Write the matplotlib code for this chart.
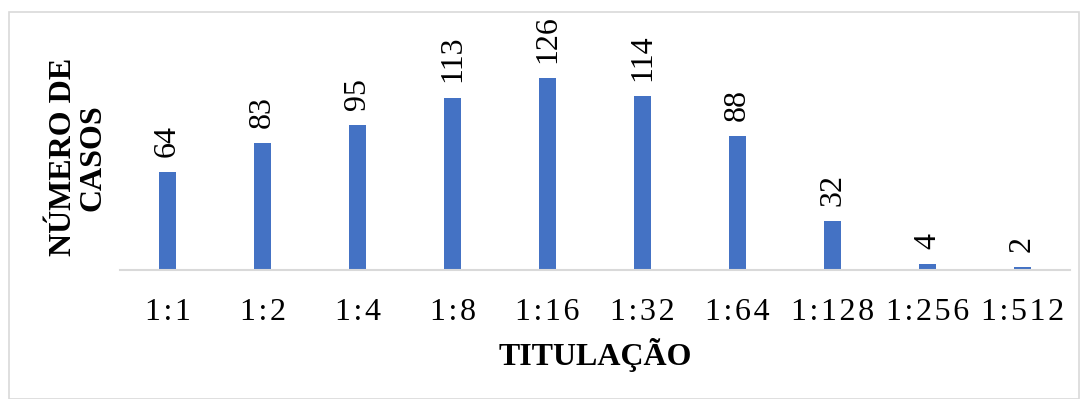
import matplotlib
matplotlib.use("Agg")
import matplotlib.pyplot as plt
from matplotlib.patches import Rectangle

plt.rcParams['font.family'] = ['Liberation Serif', 'DejaVu Serif']

titulos = ['1:1', '1:2', '1:4', '1:8', '1:16', '1:32', '1:64', '1:128', '1:256', '1:512']
casos = [64, 83, 95, 113, 126, 114, 88, 32, 4, 2]

def espacado(s):
    # a little tracking between characters
    return '\u200a'.join(s)

fig = plt.figure(figsize=(10.87, 3.99), dpi=100)
ax = fig.add_axes([0.1104, 0.3233, 0.874, 0.535])

x = range(len(titulos))
bars = ax.bar(x, casos, width=0.18, color='#4472C4')

for b, v in zip(bars, casos):
    ax.text(b.get_x() + b.get_width() / 2, v + 10, str(v), rotation=90,
            ha='center', va='bottom', fontsize=23, clip_on=False)

ax.set_xlim(-0.5, len(titulos) - 0.5)
ax.set_ylim(0, 140)
ax.set_xticks(list(x))
ax.set_xticklabels([espacado(t) for t in titulos], fontsize=23)
ax.tick_params(axis='x', length=0, pad=20)
ax.set_yticks([])
for s in ['top', 'right', 'left']:
    ax.spines[s].set_visible(False)
ax.spines['bottom'].set_color('#d9d9d9')
ax.spines['bottom'].set_linewidth(1.5)

ax.set_xlabel('TITULAÇÃO', fontsize=23, fontweight='bold', labelpad=8)
fig.text(0.072, 0.606, 'NÚMERO DE\nCASOS', rotation=90, ha='center', va='center',
         fontsize=23, fontweight='bold', linespacing=1.0)

# light frame around the chart area
fig.patches.append(Rectangle((0.008, 0.0), 0.985, 0.97, transform=fig.transFigure,
                             fill=False, edgecolor='#d9d9d9', linewidth=1.2))

fig.savefig('out.png', dpi=100)
